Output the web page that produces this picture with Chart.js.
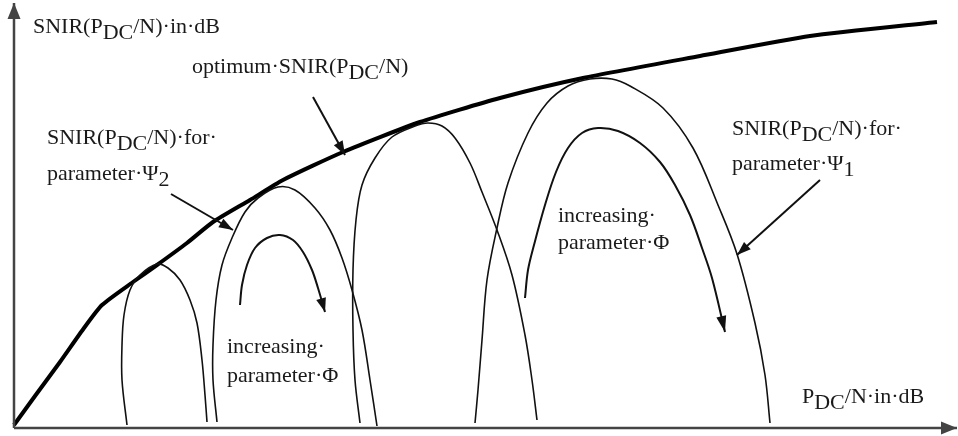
<!DOCTYPE html>
<html>
<head>
<meta charset="utf-8">
<script src="https://cdn.jsdelivr.net/npm/chart.js@4.4.0/dist/chart.umd.min.js"></script>
<style>
html, body { margin: 0; padding: 0; background: #fff; }
#wrap { width: 958px; height: 436px; position: relative; }
</style>
</head>
<body>
<div id="wrap"><canvas id="chart"></canvas></div>
<script>
(function(){
// schematic units: x = P_DC/N, y = SNIR (scale is reversed, top = 0)
const axisY = [[14, 428], [14, 3]];
const axisX = [[14, 428], [957, 428]];

const optimumCurve = [[14,425],[35,396],[60,362],[84,328],[102,305],[133,282],[157,265],[187,243],[213,222],[250,200],[283,180],[343,152],[420,122],[500,98],[583,78],[700,56],[810,36],[937,22]];

const humpA = [[127,425],[122,380],[122,345],[124,315],[130,290],[140,275],[157,264],[168,268],[180,280],[190,300],[197,323],[202,360],[205,395],[207,422]];
const humpB = [[217,422],[213,380],[213,345],[216,300],[222,265],[232,238],[245,212],[258,198],[278,187],[295,190],[315,208],[330,230],[342,258],[352,290],[362,330],[370,380],[377,426]];
const humpC = [[360,423],[355,380],[353,330],[353,270],[356,220],[362,185],[375,158],[392,137],[415,126],[428,123],[442,126],[455,138],[470,163],[482,192],[497,230],[512,275],[525,335],[532,380],[537,420]];
const humpD = [[475,423],[478,390],[482,340],[487,280],[497,228],[508,183],[528,133],[547,103],[568,86],[590,79],[612,79],[630,86],[663,108],[693,148],[718,205],[737,254],[755,323],[765,375],[770,423]];

const phiArrowLeft = [[240,305],[242,285],[247,265],[255,248],[267,238],[280,235],[293,240],[303,252],[312,270],[318,288],[325,312]];
const phiArrowRight = [[525,298],[528,270],[534,245],[545,205],[556,172],[568,148],[582,133],[598,128],[618,131],[640,143],[660,162],[675,185],[690,215],[702,248],[712,278],[725,332]];

const pointerOptimum = [[313,97],[345,155]];
const pointerPsi2 = [[171,194],[233,230]];
const pointerPsi1 = [[820,180],[737,255]];

// text pieces: [text, lowered?]
const labelYAxis = [['SNIR(P',0],['DC',1],['/N)·in·dB',0]];
const labelOptimum = [['optimum·SNIR(P',0],['DC',1],['/N)',0]];
const labelFor = [['SNIR(P',0],['DC',1],['/N)·for·',0]];
const labelPsi2 = [['parameter·Ψ',0],['2',1]];
const labelPsi1 = [['parameter·Ψ',0],['1',1]];
const labelIncr = [['increasing·',0]];
const labelPhi = [['parameter·Φ',0]];
const labelXAxis = [['P',0],['DC',1],['/N·in·dB',0]];

const annotations = [
  { at: [33, 33], parts: labelYAxis },
  { at: [192, 73], parts: labelOptimum },
  { at: [47, 144], parts: labelFor },
  { at: [47, 180], parts: labelPsi2 },
  { at: [227, 353], parts: labelIncr },
  { at: [227, 382], parts: labelPhi },
  { at: [558, 222], parts: labelIncr },
  { at: [558, 249], parts: labelPhi },
  { at: [732, 135], parts: labelFor },
  { at: [732, 170], parts: labelPsi1 },
  { at: [802, 403], parts: labelXAxis }
];

const pts = (a) => a.map((p) => ({ x: p[0], y: p[1] }));

function line(data, width, color, tension, head) {
  return {
    data: pts(data),
    showLine: true,
    borderColor: color,
    borderWidth: width,
    pointRadius: 0,
    tension: tension,
    fill: false,
    head: head || null
  };
}

const arrowHeads = {
  id: 'arrowHeads',
  afterDatasetsDraw(chart) {
    const ctx = chart.ctx;
    const xs = chart.scales.x;
    const ys = chart.scales.y;
    chart.data.datasets.forEach((ds) => {
      if (!ds.head) return;
      const n = ds.data.length;
      const a = ds.data[n - 2], b = ds.data[n - 1];
      const x1 = xs.getPixelForValue(a.x), y1 = ys.getPixelForValue(a.y);
      const x2 = xs.getPixelForValue(b.x), y2 = ys.getPixelForValue(b.y);
      const ang = Math.atan2(y2 - y1, x2 - x1);
      const L = ds.head[0], W = ds.head[1] / 2;
      const c = Math.cos(ang), s = Math.sin(ang);
      ctx.save();
      ctx.fillStyle = ds.borderColor;
      ctx.beginPath();
      ctx.moveTo(x2, y2);
      ctx.lineTo(x2 - L * c + W * s, y2 - L * s - W * c);
      ctx.lineTo(x2 - L * c - W * s, y2 - L * s + W * c);
      ctx.closePath();
      ctx.fill();
      ctx.restore();
    });
  }
};

const textLabels = {
  id: 'textLabels',
  afterDraw(chart) {
    const ctx = chart.ctx;
    const xs = chart.scales.x;
    const ys = chart.scales.y;
    ctx.save();
    ctx.font = '22px "Liberation Serif", "Times New Roman", serif';
    ctx.fillStyle = '#1a1a1a';
    ctx.textBaseline = 'alphabetic';
    ctx.textAlign = 'left';
    annotations.forEach((lab) => {
      let x = xs.getPixelForValue(lab.at[0]);
      const y = ys.getPixelForValue(lab.at[1]);
      lab.parts.forEach((p) => {
        ctx.fillText(p[0], x, y + (p[1] ? 6 : 0));
        x += ctx.measureText(p[0]).width;
      });
    });
    ctx.restore();
  }
};

new Chart(document.getElementById('chart'), {
  type: 'scatter',
  data: {
    datasets: [
      line(axisY, 2.5, '#444', 0, [16, 13]),
      line(axisX, 2.5, '#444', 0, [16, 13]),
      line(humpA, 1.6, '#111', 0.35),
      line(humpB, 1.6, '#111', 0.35),
      line(humpC, 1.6, '#111', 0.35),
      line(humpD, 1.6, '#111', 0.35),
      line(phiArrowLeft, 2, '#111', 0.35, [14, 10]),
      line(phiArrowRight, 2, '#111', 0.35, [16, 10]),
      line(pointerOptimum, 2, '#111', 0, [14, 10]),
      line(pointerPsi2, 2, '#111', 0, [14, 10]),
      line(pointerPsi1, 2, '#111', 0, [14, 10]),
      line(optimumCurve, 4, '#000', 0.2)
    ]
  },
  options: {
    responsive: true,
    maintainAspectRatio: false,
    animation: false,
    layout: { padding: 0 },
    plugins: { legend: { display: false }, tooltip: { enabled: false } },
    scales: {
      x: { type: 'linear', min: 0, max: 958, display: false },
      y: { type: 'linear', min: 0, max: 436, reverse: true, display: false }
    }
  },
  plugins: [arrowHeads, textLabels]
});
}());
</script>
</body>
</html>
